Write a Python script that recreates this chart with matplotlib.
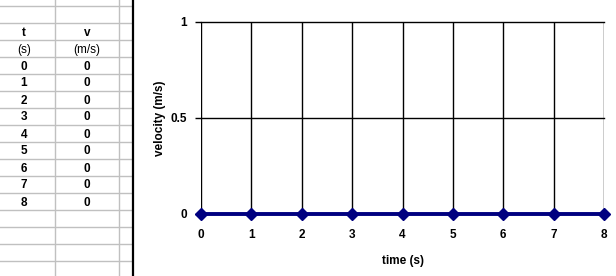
import matplotlib
matplotlib.use("Agg")
import matplotlib.pyplot as plt

t = [0, 1, 2, 3, 4, 5, 6, 7, 8]
v = [0, 0, 0, 0, 0, 0, 0, 0, 0]
col_heads = ["t", "v"]
col_units = ["(s)", "(m/s)"]
x_ticks = [0, 1, 2, 3, 4, 5, 6, 7, 8]
y_ticks = [0, 0.5, 1]
y_ticklabels = ["0", "0.5", "1"]

W, H = 616, 276
dpi = 100
plt.rcParams['font.family'] = ['Liberation Sans', 'DejaVu Sans']
fig = plt.figure(figsize=(W / dpi, H / dpi), dpi=dpi)
fig.patch.set_facecolor("white")

# background "spreadsheet" axes in pixel coords
bg = fig.add_axes([0, 0, 1, 1])
bg.set_xlim(0, W)
bg.set_ylim(H, 0)
bg.axis("off")

grid_c = "#c0c0c0"
row_h = 17
row0 = 6
for k in range(17):
    y = row0 + k * row_h
    bg.plot([0, 132], [y, y], color=grid_c, lw=1)
for x in [55, 119]:
    bg.plot([x, x], [0, H], color=grid_c, lw=1)
bg.plot([132.5, 132.5], [0, H], color="black", lw=1.6)

cx = [24, 87]
fs = 8.5
for j in range(2):
    bg.text(cx[j], row0 + 1.5 * row_h + 1, col_heads[j], ha="center", va="center",
            fontsize=fs, fontweight="bold")
    bg.text(cx[j], row0 + 2.5 * row_h + 1, col_units[j], ha="center", va="center",
            fontsize=fs)
for i in range(len(t)):
    yc = row0 + (3.5 + i) * row_h + 1
    bg.text(cx[0], yc, str(t[i]), ha="center", va="center", fontsize=fs, fontweight="bold")
    bg.text(cx[1], yc, str(v[i]), ha="center", va="center", fontsize=fs, fontweight="bold")

# chart axes
L, R, T, B = 201, 604, 22, 214
ax = fig.add_axes([L / W, 1 - B / H, (R - L) / W, (B - T) / H])
ax.set_xlim(0, 8)
ax.set_ylim(0, 1)
for s in ax.spines.values():
    s.set_visible(False)
ax.set_xticks(x_ticks)
ax.set_yticks(y_ticks)
ax.set_yticklabels(y_ticklabels)
ax.tick_params(axis="x", length=0, pad=11, labelsize=fs)
ax.tick_params(axis="y", length=4, width=1, color="black", pad=6, labelsize=fs)
for lab in ax.get_xticklabels() + ax.get_yticklabels():
    lab.set_fontweight("bold")
for xv in x_ticks:
    ax.axvline(xv, color="black", lw=1, zorder=1)
for yv in y_ticks[1:]:
    ax.axhline(yv, color="black", lw=1, zorder=1, clip_on=False)
ax.plot(t, v, color="#000080", lw=2.8, marker="D", markersize=6.5,
        markerfacecolor="#000080", markeredgecolor="#000080", clip_on=False, zorder=3)
ax.set_xlabel("time (s)", fontsize=fs, fontweight="bold", labelpad=10)
ax.set_ylabel("velocity (m/s)", fontsize=fs, fontweight="bold", labelpad=3)

fig.savefig("out.png", dpi=dpi)
